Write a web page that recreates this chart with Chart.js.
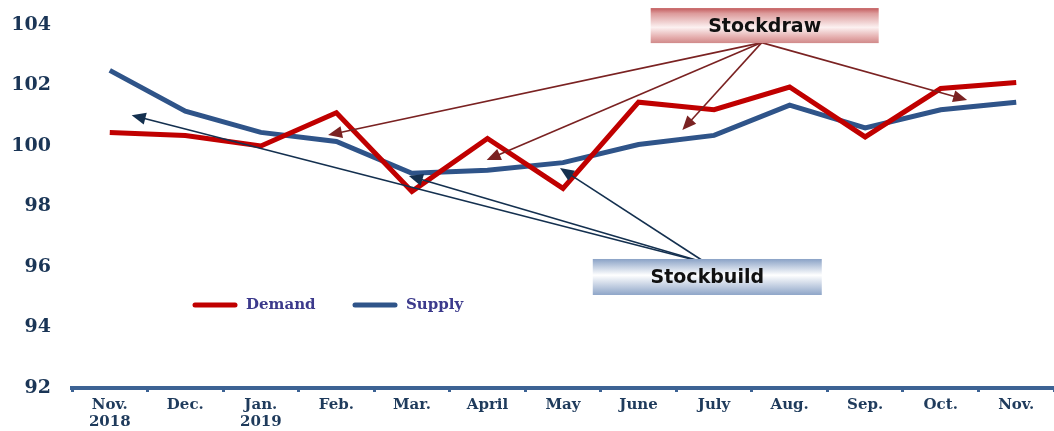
<!DOCTYPE html>
<html>
<head>
<meta charset="utf-8">
<script src="https://cdn.jsdelivr.net/npm/chart.js@4.4.0/dist/chart.umd.min.js"></script>
<style>
  html, body { margin: 0; padding: 0; background: #fff; }
  #wrap { width: 1054px; height: 431px; }
</style>
</head>
<body>
<div id="wrap"><canvas id="myChart"></canvas></div>
<script>
var months = [['Nov.', '2018'], 'Dec.', ['Jan.', '2019'], 'Feb.', 'Mar.', 'April', 'May', 'June', 'July', 'Aug.', 'Sep.', 'Oct.', 'Nov.'];
var demand = [100.45, 100.35, 100.0, 101.1, 98.5, 100.25, 98.6, 101.45, 101.2, 101.95, 100.3, 101.9, 102.1];
var supply = [102.5, 101.15, 100.45, 100.15, 99.1, 99.2, 99.45, 100.05, 100.35, 101.35, 100.6, 101.2, 101.45];

// arrow tips in data units: [category index, value]
var drawTips = [[2.89, 100.36], [4.99, 99.54], [7.58, 100.53], [11.35, 101.52]];
var buildTips = [[0.29, 101.02], [3.96, 99.01], [5.96, 99.27]];

var red = '#c00000';
var blue = '#2f5489';
var axisBlue = '#3d6394';

function arrow(ctx, x0, y0, x1, y1, color) {
    var a = Math.atan2(y1 - y0, x1 - x0);
    var len = 14, w = 6;
    ctx.strokeStyle = color;
    ctx.fillStyle = color;
    ctx.lineWidth = 1.6;
    ctx.beginPath();
    ctx.moveTo(x0, y0);
    ctx.lineTo(x1 - Math.cos(a) * len * 0.8, y1 - Math.sin(a) * len * 0.8);
    ctx.stroke();
    ctx.beginPath();
    ctx.moveTo(x1, y1);
    ctx.lineTo(x1 - Math.cos(a) * len + Math.sin(a) * w, y1 - Math.sin(a) * len - Math.cos(a) * w);
    ctx.lineTo(x1 - Math.cos(a) * len - Math.sin(a) * w, y1 - Math.sin(a) * len + Math.cos(a) * w);
    ctx.closePath();
    ctx.fill();
}

function box(ctx, cx, cy, w, h, stops, text) {
    var g = ctx.createLinearGradient(0, cy - h / 2, 0, cy + h / 2);
    for (var i = 0; i < stops.length; i++) g.addColorStop(stops[i][0], stops[i][1]);
    ctx.fillStyle = g;
    ctx.fillRect(cx - w / 2, cy - h / 2, w, h);
    ctx.fillStyle = '#111';
    ctx.font = 'bold 19px "DejaVu Sans"';
    ctx.textAlign = 'center';
    ctx.textBaseline = 'middle';
    ctx.fillText(text, cx, cy + 1);
}

var notes = {
    id: 'notes',
    afterDatasetsDraw: function(chart) {
        var ctx = chart.ctx, xs = chart.scales.x, ys = chart.scales.y;
        ctx.save();

        // Stockdraw box + arrows
        var dx = xs.getPixelForValue(8.67), dy = ys.getPixelForValue(103.98);
        for (var i = 0; i < drawTips.length; i++) {
            arrow(ctx, dx - 3, dy + 17, xs.getPixelForValue(drawTips[i][0]), ys.getPixelForValue(drawTips[i][1]), '#7a2222');
        }
        box(ctx, dx, dy, 228, 35, [[0, '#c25a5c'], [0.15, '#dc9a9a'], [0.55, '#fcf1f1'], [0.85, '#e3a9a9'], [1, '#d08a8a']], 'Stockdraw');

        // Stockbuild box + arrows
        var bx = xs.getPixelForValue(7.91), by = ys.getPixelForValue(95.67);
        for (var j = 0; j < buildTips.length; j++) {
            arrow(ctx, bx - 1, by - 14, xs.getPixelForValue(buildTips[j][0]), ys.getPixelForValue(buildTips[j][1]), '#14304f');
        }
        box(ctx, bx, by, 229, 36, [[0, '#8aa2c6'], [0.45, '#ffffff'], [1, '#8ea5c8']], 'Stockbuild');

        // legend inside the plot
        var ly = ys.getPixelForValue(94.74);
        var lx = chart.chartArea.left + 123;
        chart.data.datasets.forEach(function(ds, k) {
            var x0 = lx + k * 160;
            ctx.strokeStyle = ds.borderColor;
            ctx.lineWidth = 5;
            ctx.lineCap = 'round';
            ctx.beginPath();
            ctx.moveTo(x0, ly);
            ctx.lineTo(x0 + 40, ly);
            ctx.stroke();
            ctx.fillStyle = '#3c3a8c';
            ctx.font = 'bold 15px "DejaVu Serif"';
            ctx.textAlign = 'left';
            ctx.textBaseline = 'middle';
            ctx.fillText(ds.label, x0 + 51, ly);
        });
        ctx.restore();
    }
};

var ctx = document.getElementById('myChart').getContext('2d');
var myChart = new Chart(ctx, {
    type: 'line',
    data: {
        labels: months,
        datasets: [{
            label: 'Demand',
            data: demand,
            borderColor: red,
            borderWidth: 5,
            pointRadius: 0,
            tension: 0
        }, {
            label: 'Supply',
            data: supply,
            borderColor: blue,
            borderWidth: 5,
            pointRadius: 0,
            tension: 0
        }]
    },
    options: {
        responsive: true,
        maintainAspectRatio: false,
        animation: false,
        layout: { padding: { top: 25, right: 0, bottom: 0, left: 0 } },
        plugins: {
            legend: { display: false },
            tooltip: { enabled: false }
        },
        scales: {
            x: {
                offset: true,
                border: { display: true, color: axisBlue, width: 4 },
                grid: { display: true, drawOnChartArea: false, drawTicks: true, tickLength: 4, tickColor: axisBlue, tickWidth: 3, offset: true },
                ticks: {
                    color: '#1f3b5c',
                    font: { family: 'DejaVu Serif', weight: 'bold', size: 15, lineHeight: 1.1 },
                    padding: 5,
                    maxRotation: 0,
                    autoSkip: false
                },
                afterFit: function(s) { s.height = 43; }
            },
            y: {
                min: 92,
                max: 104,
                border: { display: false },
                grid: { display: false, drawTicks: false },
                ticks: {
                    stepSize: 2,
                    color: '#1a3556',
                    font: { family: 'DejaVu Serif', weight: 'bold', size: 19 },
                    padding: 21
                },
                afterFit: function(s) {
                    s.width = 72;
                    s.paddingTop = 0;
                    s.paddingBottom = 0;
                }
            }
        }
    },
    plugins: [notes]
});
</script>
</body>
</html>
